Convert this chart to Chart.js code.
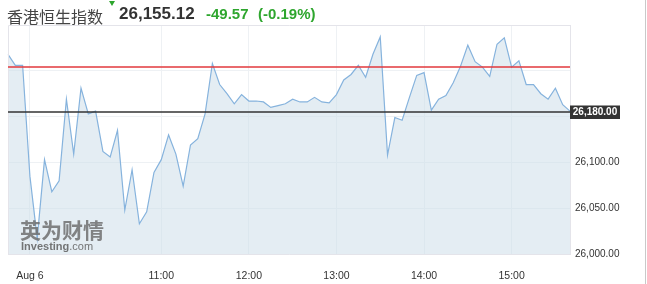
<!DOCTYPE html>
<html>
<head>
<meta charset="utf-8">
<script src="https://cdn.jsdelivr.net/npm/chart.js@4/dist/chart.umd.min.js"></script>
<style>
html,body{margin:0;padding:0;background:#fff;}
#wrap{position:relative;width:647px;height:284px;overflow:hidden;font-family:"Liberation Sans",Arial,sans-serif;}
#wrap canvas{position:absolute;left:0;top:0;}
.hd{position:absolute;white-space:nowrap;line-height:1;}
#name{left:7px;top:4px;font:16px "Noto Sans CJK SC",sans-serif;color:#444;}
#mark{position:absolute;left:109px;top:1px;width:0;height:0;border-left:3px solid transparent;border-right:3px solid transparent;border-top:5px solid #2ea62e;}
#last{left:119px;top:5px;font-weight:bold;font-size:17px;color:#333;}
#chg{left:206px;top:6px;font-weight:bold;font-size:15px;color:#2ea62e;}
#pct{left:258px;top:6px;font-weight:bold;font-size:15px;color:#2ea62e;}
#edge{position:absolute;left:645px;top:0;width:1px;height:284px;background:#c9c9c9;}
#wm1{position:absolute;left:20px;top:219px;font:bold 21px "Noto Sans CJK SC",sans-serif;color:#6f6f6f;opacity:.85;line-height:1;letter-spacing:0;}
#wm2{position:absolute;left:21px;top:241px;font-size:11px;color:#5f5f5f;opacity:.85;line-height:1;}
#wm2 b{font-weight:bold;}
</style>
</head>
<body>
<div id="wrap">
  <canvas id="chart" width="647" height="284"></canvas>
  <div class="hd" id="name">香港恒生指数</div>
  <div id="mark"></div>
  <div class="hd" id="last">26,155.12</div>
  <div class="hd" id="chg">-49.57</div>
  <div class="hd" id="pct">(-0.19%)</div>
  <div id="wm1">英为财情</div>
  <div id="wm2"><b>Investing</b>.com</div>
  <div id="edge"></div>
</div>
<script>
// 5-minute closes, 09:15 .. 15:40
const values = [
  26218,26206,26206,26085,26017,26103,26068,26080,26169,26109,
  26181,26153,26156,26112,26106,26135,26048,26092,26033,26046,
  26089,26103,26130,26109,26074,26119,26126,26153,26208,26185,
  26175,26164,26174,26167,26167,26166,26160,26162,26164,26169,
  26166,26166,26171,26166,26165,26174,26190,26196,26206,26193,
  26218,26237,26108,26149,26146,26171,26195,26198,26157,26169,
  26173,26187,26205,26228,26210,26204,26194,26229,26236,26204,
  26211,26185,26185,26175,26169,26181,26163,26156
];
const startMinute = 9*60+15;
const times = values.map((v,i)=>{
  const m = startMinute + 5*i;
  return String(Math.floor(m/60)).padStart(2,'0')+':'+String(m%60).padStart(2,'0');
});

const xTickTimes = ['09:30','11:00','12:00','13:00','14:00','15:00'];
const xTickLabels = ['Aug 6','11:00','12:00','13:00','14:00','15:00'];
const yTickValues = [26000,26050,26100,26150,26200];
const yTickLabels = ['26,000.00','26,050.00','26,100.00','',''];

const prevClose = 26204.69;
const lastPrice = 26155.12;
const lastTag = '26,180.00';

/* lines + price tag + frame */
const overlay = {
  id:'overlay',
  afterDraw(chart){
    const {ctx, chartArea:a, scales:{y}} = chart;
    ctx.save();
    ctx.strokeStyle='#e4e4ea';
    ctx.lineWidth=1;
    ctx.beginPath();
    ctx.moveTo(a.left+0.5,a.bottom);ctx.lineTo(a.left+0.5,a.top+0.5);ctx.lineTo(a.right,a.top+0.5);
    ctx.stroke();

    const yr=Math.round(y.getPixelForValue(prevClose));
    ctx.strokeStyle='#e2383d';ctx.lineWidth=1.5;
    ctx.beginPath();ctx.moveTo(a.left,yr);ctx.lineTo(a.right,yr);ctx.stroke();

    const yb=Math.round(y.getPixelForValue(lastPrice));
    ctx.strokeStyle='#333';ctx.lineWidth=1.5;
    ctx.beginPath();ctx.moveTo(a.left,yb);ctx.lineTo(a.right,yb);ctx.stroke();

    ctx.fillStyle='#333';
    ctx.fillRect(a.right,yb-6.5,50,13.5);
    ctx.fillStyle='#fff';
    ctx.font='bold 10px "Liberation Sans", Arial, sans-serif';
    ctx.textAlign='center';ctx.textBaseline='middle';
    ctx.fillText(lastTag,a.right+25,yb+0.5);
    ctx.restore();
  }
};

new Chart(document.getElementById('chart'),{
  type:'line',
  data:{
    labels:times,
    datasets:[{
      data:values,
      borderColor:'#86b3dd',
      borderWidth:1.2,
      backgroundColor:'rgba(205,222,234,0.55)',
      fill:'start',
      pointRadius:0,
      tension:0
    }]
  },
  options:{
    responsive:false,
    animation:false,
    devicePixelRatio:1,
    layout:{padding:{left:5,top:25,right:0,bottom:0}},
    plugins:{legend:{display:false},tooltip:{enabled:false}},
    scales:{
      x:{
        type:'category',
        offset:false,
        z:1,
        afterFit:axis=>{axis.height=30;},
        afterBuildTicks:axis=>{axis.ticks=xTickTimes.map(t=>({value:times.indexOf(t)}));},
        grid:{color:'#eef1f4',drawTicks:false},
        border:{color:'#e4e4ea'},
        ticks:{
          autoSkip:false,maxRotation:0,padding:16,color:'#333',
          font:{family:'"Liberation Sans", Arial, sans-serif',size:10.5},
          callback:v=>xTickLabels[xTickTimes.indexOf(times[v])]
        }
      },
      y:{
        position:'right',
        min:26000,max:26250,
        z:1,
        afterFit:axis=>{axis.width=77;},
        afterBuildTicks:axis=>{axis.ticks=yTickValues.map(v=>({value:v}));},
        grid:{color:'#eef1f4',drawTicks:false},
        border:{color:'#e4e4ea'},
        ticks:{
          padding:5,color:'#333',
          font:{family:'"Liberation Sans", Arial, sans-serif',size:10},
          callback:v=>yTickLabels[yTickValues.indexOf(v)]
        }
      }
    }
  },
  plugins:[overlay]
});
</script>
</body>
</html>
